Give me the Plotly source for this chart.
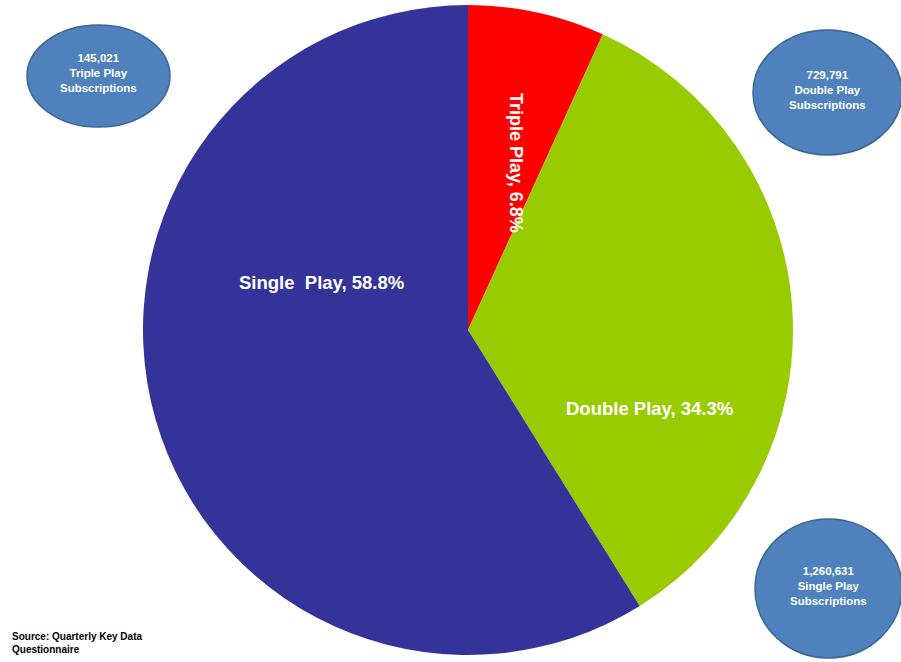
import plotly.graph_objects as go

# Data
categories = ["Triple Play", "Double Play", "Single Play"]
shares = [6.8, 34.3, 58.8]
subscriptions = ["145,021", "729,791", "1,260,631"]
slice_colors = ["#FF0000", "#99CC00", "#333399"]
source_note = "Source: Quarterly Key Data<br>Questionnaire"

W, H = 901, 662
CX, CY, R = 468, 330, 325

fig = go.Figure(go.Pie(
    labels=categories,
    values=shares,
    sort=False,
    direction="clockwise",
    rotation=0,
    marker=dict(colors=slice_colors, line=dict(width=0)),
    textinfo="none",
    hoverinfo="label+percent",
    showlegend=False,
    domain=dict(x=[(CX - R) / W, (CX + R) / W], y=[1 - (CY + R) / H, 1 - (CY - R) / H]),
))

FONT = "Liberation Sans, Arial, sans-serif"

def px(x, y):
    return x / W, 1 - y / H

annotations = []
# Slice labels
lbl_pos = {
    "Triple Play": (516, 163, 90, 18),
    "Double Play": (649, 408, 0, 18.5),
    "Single Play": (321, 283, 0, 18.5),
}
for cat, sh in zip(categories, shares):
    x, y, ang, sz = lbl_pos[cat]
    name = "Single  Play" if cat == "Single Play" else cat
    xx, yy = px(x, y)
    annotations.append(dict(
        x=xx, y=yy, xref="paper", yref="paper", showarrow=False,
        text=f"<b>{name}, {sh}%</b>", textangle=ang,
        font=dict(family=FONT, color="white", size=sz),
        xanchor="center", yanchor="middle",
    ))

# Bubbles
bubbles = {
    "Triple Play": (27, 25, 170, 127),
    "Double Play": (753, 30, 902, 155),
    "Single Play": (755, 519, 902, 658),
}
shapes = []
for cat, sub in zip(categories, subscriptions):
    x0, y0, x1, y1 = bubbles[cat]
    shapes.append(dict(
        type="circle", xref="paper", yref="paper",
        x0=x0 / W, x1=x1 / W, y0=1 - y1 / H, y1=1 - y0 / H,
        fillcolor="#4F81BD", line=dict(color="#3A6596", width=1.5), layer="above",
    ))
    cx, cy = (x0 + x1) / 2, (y0 + y1) / 2 - 3
    xx, yy = px(cx, cy)
    annotations.append(dict(
        x=xx, y=yy, xref="paper", yref="paper", showarrow=False,
        text=f"<b>{sub}<br>{cat}<br>Subscriptions</b>",
        font=dict(family=FONT, color="white", size=11.5),
        xanchor="center", yanchor="middle", align="center",
    ))

xx, yy = px(10, 643)
annotations.append(dict(
    x=xx, y=yy, xref="paper", yref="paper", showarrow=False,
    text=f"<b>{source_note}</b>", align="left",
    font=dict(family=FONT, color="black", size=10),
    xanchor="left", yanchor="middle",
))

fig.update_layout(
    width=W, height=H,
    margin=dict(l=0, r=0, t=0, b=0),
    paper_bgcolor="white", plot_bgcolor="white",
    shapes=shapes, annotations=annotations,
)

fig.write_html("out.html")
